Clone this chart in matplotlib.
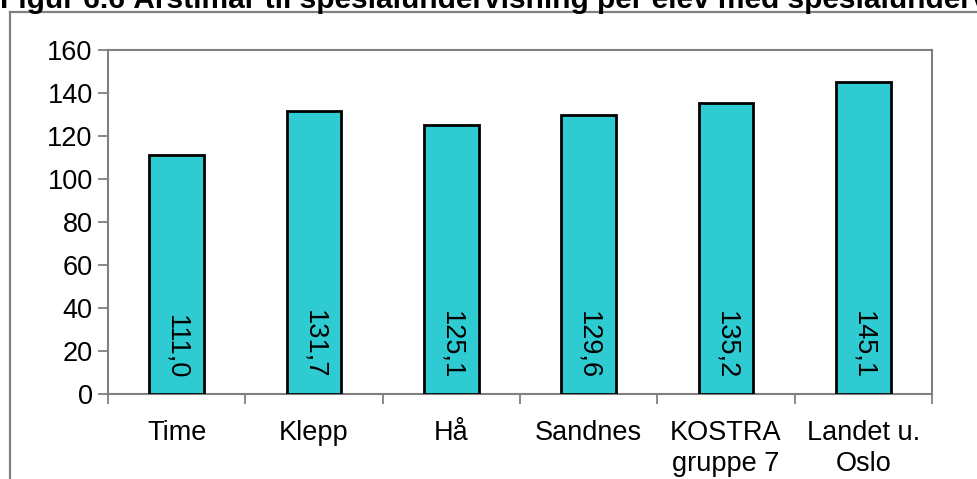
import matplotlib
matplotlib.use("Agg")
import matplotlib.pyplot as plt
from matplotlib.lines import Line2D

# data
categories = ["Time", "Klepp", "Hå", "Sandnes", "KOSTRA\ngruppe 7", "Landet u.\nOslo"]
values = [111.0, 131.7, 125.1, 129.6, 135.2, 145.1]
value_labels = ["111,0", "131,7", "125,1", "129,6", "135,2", "145,1"]
title = "Figur 6.6 Årstimar til spesialundervisning per elev med spesialundervisning"

W, H = 977, 479
plt.rcParams['font.family'] = ['Liberation Sans', 'DejaVu Sans']

fig = plt.figure(figsize=(W / 100, H / 100), dpi=100)
fig.patch.set_facecolor('white')

# outer frame (left and top edge visible)
frame_col = '#808080'
fig.add_artist(Line2D([10 / W, 10 / W], [0, 1 - 12 / H], transform=fig.transFigure,
                      color=frame_col, lw=1.6))
fig.add_artist(Line2D([10 / W, 1], [1 - 12 / H, 1 - 12 / H], transform=fig.transFigure,
                      color=frame_col, lw=1.6))

# the title runs past the top and right edges, as in the source
fig.text(0, 1 - 8 / H, title, fontsize=21.5, fontweight='bold', ha='left', va='baseline')

ax = fig.add_axes([108 / W, 1 - 394 / H, 824 / W, (394 - 50) / H])
x = list(range(len(categories)))
ax.bar(x, values, width=0.4, color='#2ECCD2', edgecolor='black', linewidth=2, zorder=3)

for xi, lab in zip(x, value_labels):
    ax.text(xi, 7, lab, rotation=270, ha='center', va='bottom', fontsize=19.5)

ax.set_xlim(-0.5, len(categories) - 0.5)
ax.set_ylim(0, 160)
ax.set_yticks(range(0, 161, 20))
ax.tick_params(axis='y', direction='out', length=7, width=1.3, color=frame_col,
               labelsize=19.5, pad=4)

ax.set_xticks([i - 0.5 for i in range(len(categories) + 1)])
ax.set_xticklabels([])
ax.set_xticks(x, minor=True)
ax.set_xticklabels(categories, minor=True, fontsize=19.5, linespacing=1.25)
ax.tick_params(axis='x', which='major', direction='out', length=7, width=1.3, color=frame_col)
ax.tick_params(axis='x', which='minor', length=0, pad=19)

for s in ax.spines.values():
    s.set_color(frame_col)
    s.set_linewidth(1.5)

fig.savefig("out.png", dpi=100)
